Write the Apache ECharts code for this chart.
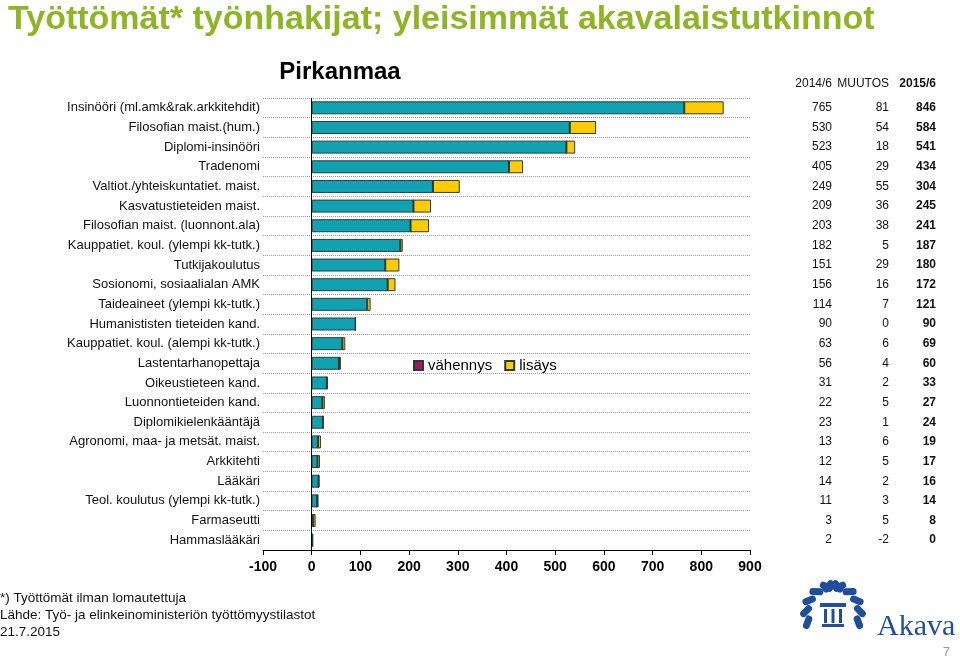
<!DOCTYPE html>
<html>
<head>
<meta charset="utf-8">
<script src="https://cdn.jsdelivr.net/npm/echarts@6/dist/echarts.min.js"></script>
<style>
html,body{margin:0;padding:0;background:#fff;}
#chart{width:960px;height:661px;}
</style>
</head>
<body>
<div id="chart"></div>
<script>
const categories = [
  "Insinööri (ml.amk&rak.arkkitehdit)",
  "Filosofian maist.(hum.)",
  "Diplomi-insinööri",
  "Tradenomi",
  "Valtiot./yhteiskuntatiet. maist.",
  "Kasvatustieteiden maist.",
  "Filosofian maist. (luonnont.ala)",
  "Kauppatiet. koul. (ylempi kk-tutk.)",
  "Tutkijakoulutus",
  "Sosionomi, sosiaalialan AMK",
  "Taideaineet (ylempi kk-tutk.)",
  "Humanististen tieteiden kand.",
  "Kauppatiet. koul. (alempi kk-tutk.)",
  "Lastentarhanopettaja",
  "Oikeustieteen kand.",
  "Luonnontieteiden kand.",
  "Diplomikielenkääntäjä",
  "Agronomi, maa- ja metsät. maist.",
  "Arkkitehti",
  "Lääkäri",
  "Teol. koulutus (ylempi kk-tutk.)",
  "Farmaseutti",
  "Hammaslääkäri"
];
const v2014 = [765,530,523,405,249,209,203,182,151,156,114,90,63,56,31,22,23,13,12,14,11,3,2];
const muutos = [81,54,18,29,55,36,38,5,29,16,7,0,6,4,2,5,1,6,5,2,3,5,-2];
const v2015 = [846,584,541,434,304,245,241,187,180,172,121,90,69,60,33,27,24,19,17,16,14,8,0];
const xTicks = {min:-100, max:900, interval:100};
const tableHeaders = ["2014/6","MUUTOS","2015/6"];
const legendNames = ["vähennys","lisäys"];

const baseVals = v2014.map((v,i)=>Math.min(v, v2015[i]));
const decVals = muutos.map(m=>m<0 ? -m : 0);
const incVals = muutos.map(m=>m>0 ? m : 0);

const TEAL = '#10A2B0', YELLOW = '#FFCC00', PURPLE = '#A3195B', EDGE = '#2a3b3f';
const SANS = 'Liberation Sans, Arial, Helvetica, sans-serif';

const chart = echarts.init(document.getElementById('chart'));

// laurel leaves for logo (decorative)
const leaves = [];
const cx = 833, cy = 613, R = 27;
for (let k = 0; k < 6; k++) {
  const a = (200 - k*24) * Math.PI/180;
  [1,-1].forEach(s=>{
    const x = cx + s*R*Math.cos(a) * -1;
    const y = cy - R*Math.sin(a);
    leaves.push({type:'rect', x: x-3.5, y: y-7, shape:{width:7,height:14,r:3.5},
      originX: 3.5, originY: 7,
      rotation: s*((k*24+20)*Math.PI/180),
      style:{fill:'#1F4E9C'}});
  });
}

const option = {
  backgroundColor:'#ffffff',
  animation:false,
  grid:{left:263, right:210, top:98, bottom:111, containLabel:false},
  legend:{
    data:legendNames, left:408, top:353, itemWidth:9, itemHeight:9, itemGap:12,
    icon:'rect',
    textStyle:{fontSize:15, color:'#000', fontFamily:SANS}
  },
  xAxis:{
    type:'value', min:xTicks.min, max:xTicks.max, interval:xTicks.interval,
    axisLine:{show:true, onZero:false, lineStyle:{color:'#000', width:1}},
    axisTick:{show:true, length:5, lineStyle:{color:'#000'}},
    axisLabel:{fontSize:14, fontWeight:'bold', color:'#000', fontFamily:SANS, margin:10},
    splitLine:{show:false}
  },
  yAxis:[
    {
      type:'category', data:categories, inverse:true,
      axisLine:{show:false, onZero:false}, axisTick:{show:false},
      axisLabel:{fontSize:13, color:'#111', fontFamily:SANS, margin:3},
      splitLine:{show:true, lineStyle:{color:'#999', type:'dotted', width:1}}
    },
    {
      type:'category', data:v2014.map(String), inverse:true, position:'right', offset:82,
      axisLine:{show:false}, axisTick:{show:false}, splitLine:{show:false},
      axisLabel:{fontSize:12, color:'#111', fontFamily:SANS, align:'right', margin:0}
    },
    {
      type:'category', data:muutos.map(String), inverse:true, position:'right', offset:139,
      axisLine:{show:false}, axisTick:{show:false}, splitLine:{show:false},
      axisLabel:{fontSize:12, color:'#111', fontFamily:SANS, align:'right', margin:0}
    },
    {
      type:'category', data:v2015.map(String), inverse:true, position:'right', offset:186,
      axisLine:{show:false}, axisTick:{show:false}, splitLine:{show:false},
      axisLabel:{fontSize:12, fontWeight:'bold', color:'#111', fontFamily:SANS, align:'right', margin:0}
    }
  ],
  series:[
    {
      name:'base', type:'bar', stack:'s', data:baseVals, barWidth:'66%',
      itemStyle:{color:TEAL, borderColor:EDGE, borderWidth:1},
      markLine:{silent:true, symbol:'none', label:{show:false},
        lineStyle:{color:'#000', type:'solid', width:1},
        data:[{xAxis:0}]}
    },
    {
      name:legendNames[0], type:'bar', stack:'s', data:decVals, barWidth:'66%',
      itemStyle:{color:PURPLE, borderColor:EDGE, borderWidth:1}
    },
    {
      name:legendNames[1], type:'bar', stack:'s', data:incVals, barWidth:'66%',
      itemStyle:{color:YELLOW, borderColor:EDGE, borderWidth:1}
    }
  ],
  graphic:[
    {type:'text', x:8, y:20, style:{text:'Työttömät* työnhakijat; yleisimmät akavalaistutkinnot',
      fill:'#8DB526', font:'bold 34px '+SANS, verticalAlign:'middle'}},
    {type:'text', x:340, y:72, style:{text:'Pirkanmaa', fill:'#000', font:'bold 24px '+SANS,
      align:'center', verticalAlign:'middle'}},
    {type:'text', x:832, y:84, style:{text:tableHeaders[0], fill:'#111', font:'12px '+SANS, align:'right', verticalAlign:'middle'}},
    {type:'text', x:889, y:84, style:{text:tableHeaders[1], fill:'#111', font:'12px '+SANS, align:'right', verticalAlign:'middle'}},
    {type:'text', x:936, y:84, style:{text:tableHeaders[2], fill:'#111', font:'bold 12px '+SANS, align:'right', verticalAlign:'middle'}},
    {type:'text', x:0, y:598, style:{text:'*) Työttömät ilman lomautettuja', fill:'#111', font:'13.5px '+SANS, verticalAlign:'middle'}},
    {type:'text', x:0, y:615, style:{text:'Lähde: Työ- ja elinkeinoministeriön työttömyystilastot', fill:'#111', font:'13.5px '+SANS, verticalAlign:'middle'}},
    {type:'text', x:0, y:632, style:{text:'21.7.2015', fill:'#111', font:'13.5px '+SANS, verticalAlign:'middle'}},
    {type:'group', children: leaves.concat([
      {type:'rect', shape:{x:820,y:603,width:26,height:4}, style:{fill:'#1F4E9C'}},
      {type:'rect', shape:{x:824,y:609,width:3,height:14}, style:{fill:'#1F4E9C'}},
      {type:'rect', shape:{x:831.5,y:609,width:3,height:14}, style:{fill:'#1F4E9C'}},
      {type:'rect', shape:{x:839,y:609,width:3,height:14}, style:{fill:'#1F4E9C'}},
      {type:'rect', shape:{x:822,y:624,width:22,height:3}, style:{fill:'#1F4E9C'}}
    ])},
    {type:'text', x:877, y:627, style:{text:'Akava', fill:'#1F4E9C', font:'30px Liberation Serif, DejaVu Serif, serif', verticalAlign:'middle'}},
    {type:'text', x:950, y:652, style:{text:'7', fill:'#999', font:'13px '+SANS, align:'right', verticalAlign:'middle'}}
  ]
};
chart.setOption(option);
</script>
</body>
</html>
